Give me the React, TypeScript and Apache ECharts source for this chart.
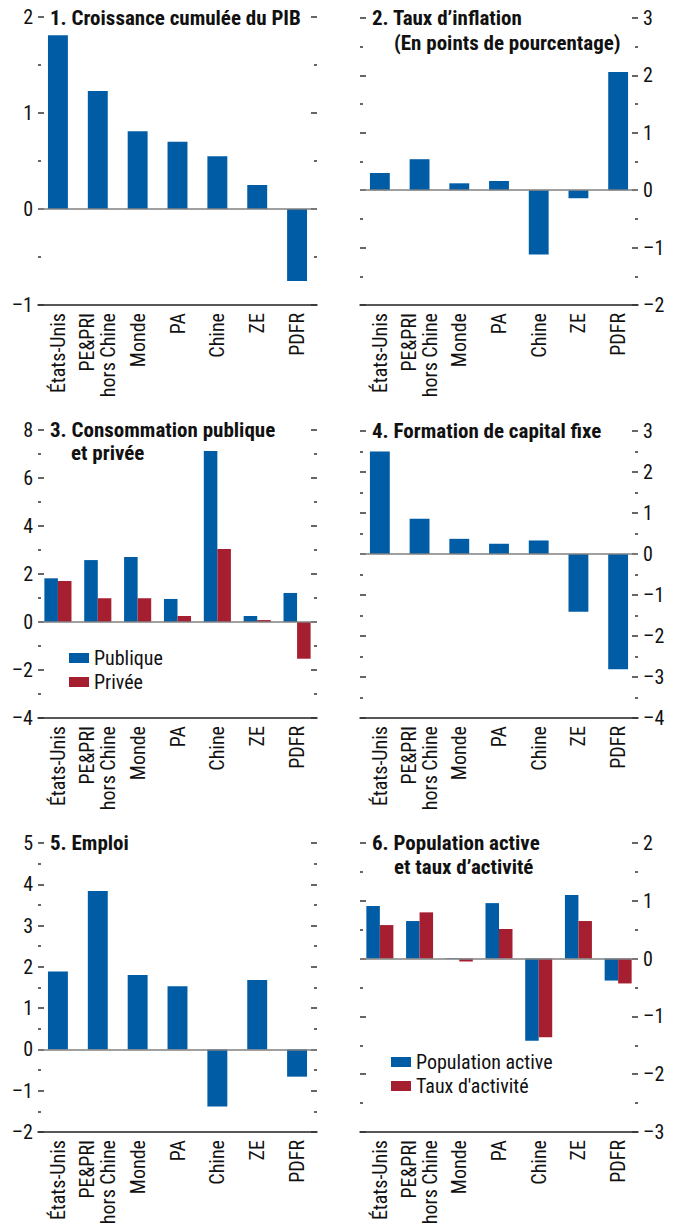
import React, { useEffect, useRef } from "react";
import * as echarts from "echarts";

const categories = ["États-Unis", "PE&PRI\nhors Chine", "Monde", "PA", "Chine", "ZE", "PDFR"];

const pib = [1.81, 1.23, 0.81, 0.7, 0.55, 0.25, -0.75];
const inflation = [0.3, 0.54, 0.12, 0.16, -1.12, -0.14, 2.06];
const consoPublique = [1.82, 2.58, 2.71, 0.96, 7.12, 0.25, 1.21];
const consoPrivee = [1.71, 0.99, 0.99, 0.25, 3.04, 0.08, -1.53];
const capitalFixe = [2.5, 0.86, 0.37, 0.25, 0.33, -1.41, -2.81];
const emploi = [1.89, 3.84, 1.8, 1.53, -1.38, 1.68, -0.66];
const populationActive = [0.91, 0.65, 0.01, 0.96, -1.42, 1.1, -0.38];
const tauxActivite = [0.58, 0.8, -0.05, 0.51, -1.36, 0.65, -0.43];

const title1 = ["1. Croissance cumulée du PIB"];
const title2 = ["2. Taux d’inflation", "(En points de pourcentage)"];
const title3 = ["3. Consommation publique", "et privée"];
const title4 = ["4. Formation de capital fixe"];
const title5 = ["5. Emploi"];
const title6 = ["6. Population active", "et taux d’activité"];

const yMin = [-1, -2, -4, -4, -2, -3];
const yMax = [2, 3, 8, 3, 5, 2];
const yStep = [1, 1, 2, 1, 1, 1];

const legend3 = ["Publique", "Privée"];
const legend6 = ["Population active", "Taux d'activité"];

const FONT = "'Liberation Sans Narrow', 'Arial Narrow', 'Roboto Condensed', 'DejaVu Sans Condensed', sans-serif";
const BLUE = "#005DA5";
const RED = "#A51F30";
const TEXT = "#111";
const TICK = "#333";

type Panel = {
  left: number;
  top: number;
  width: number;
  height: number;
  side: "left" | "right";
  titles: string[];
  titleX: number[];
  titleY: number[];
};

const panels: Panel[] = [
  { left: 38, top: 17, width: 279, height: 288, side: "left", titles: title1, titleX: [50], titleY: [17.5] },
  { left: 360, top: 18, width: 278, height: 287, side: "right", titles: title2, titleX: [372, 394], titleY: [18, 43] },
  { left: 38, top: 430, width: 279, height: 288, side: "left", titles: title3, titleX: [50, 71], titleY: [430, 453] },
  { left: 360, top: 431, width: 278, height: 287, side: "right", titles: title4, titleX: [372], titleY: [431] },
  { left: 38, top: 843, width: 279, height: 289, side: "left", titles: title5, titleX: [50], titleY: [843] },
  { left: 360, top: 843, width: 278, height: 289, side: "right", titles: title6, titleX: [372, 394], titleY: [843, 867] },
];

const fmt = (v: number) => (v < 0 ? "–" + Math.abs(v) : String(v));

function buildOption() {
  const grid: any[] = [];
  const xAxis: any[] = [];
  const yAxis: any[] = [];
  const graphic: any[] = [];

  panels.forEach((p, i) => {
    grid.push({
      left: p.left,
      top: p.top,
      width: p.width,
      height: p.height,
      containLabel: false,
      outerBoundsMode: "none",
    });
    xAxis.push({
      type: "category",
      gridIndex: i,
      data: categories,
      axisLine: { show: true, onZero: false, lineStyle: { color: "#222", width: 1.5 } },
      axisTick: { show: false },
      axisLabel: { rotate: 90, margin: 8, fontSize: 20, color: TEXT, fontFamily: FONT, interval: 0, lineHeight: 21 },
      splitLine: { show: false },
    });
    const common = {
      type: "value",
      gridIndex: i,
      min: yMin[i],
      max: yMax[i],
      interval: yStep[i],
      axisLine: { show: false },
      axisTick: { show: true, inside: true, length: 6, lineStyle: { color: TICK, width: 1.5 } },
      minorTick: { show: true, splitNumber: 2, length: 3, lineStyle: { color: TICK, width: 1.5 } },
      splitLine: { show: false },
      minorSplitLine: { show: false },
    };
    yAxis.push({
      ...common,
      position: p.side,
      axisLabel: { show: true, margin: 5, fontSize: 20, color: TEXT, fontFamily: FONT, formatter: fmt },
    });
    yAxis.push({
      ...common,
      position: p.side === "left" ? "right" : "left",
      axisLabel: { show: false },
    });
    p.titles.forEach((t, k) => {
      graphic.push({
        type: "text",
        x: p.titleX[k],
        y: p.titleY[k],
        z: 10,
        style: {
          text: t,
          fontSize: 21,
          fontWeight: "bold",
          fontFamily: FONT,
          fill: TEXT,
          verticalAlign: "middle",
          align: "left",
        },
      });
    });
  });

  const zeroLine = {
    silent: true,
    symbol: "none",
    label: { show: false },
    lineStyle: { color: "#808080", width: 1.5, type: "solid" },
    data: [{ yAxis: 0 }],
  };

  const single = (name: string, data: number[], i: number) => ({
    type: "bar",
    name,
    xAxisIndex: i,
    yAxisIndex: 2 * i,
    data,
    barWidth: "50%",
    itemStyle: { color: BLUE },
    markLine: zeroLine,
  });

  const pair = (names: string[], a: number[], b: number[], i: number) => [
    {
      type: "bar",
      name: names[0],
      xAxisIndex: i,
      yAxisIndex: 2 * i,
      data: a,
      barCategoryGap: "32%",
      barGap: "0%",
      itemStyle: { color: BLUE },
    },
    {
      type: "bar",
      name: names[1],
      xAxisIndex: i,
      yAxisIndex: 2 * i,
      data: b,
      barCategoryGap: "32%",
      barGap: "0%",
      itemStyle: { color: RED },
      markLine: zeroLine,
    },
  ];

  const series: any[] = [
    single("PIB", pib, 0),
    single("Inflation", inflation, 1),
    ...pair(legend3, consoPublique, consoPrivee, 2),
    single("Capital fixe", capitalFixe, 3),
    single("Emploi", emploi, 4),
    ...pair(legend6, populationActive, tauxActivite, 5),
  ];

  const legendCommon = {
    orient: "vertical",
    icon: "rect",
    itemWidth: 20,
    itemHeight: 10,
    itemGap: 4,
    padding: 0,
    selectedMode: false,
    textStyle: { fontSize: 20, fontFamily: FONT, color: TEXT },
  };

  return {
    animation: false,
    backgroundColor: "#fff",
    grid,
    xAxis,
    yAxis,
    series,
    graphic,
    legend: [
      { ...legendCommon, data: legend3, left: 69, top: 648 },
      { ...legendCommon, data: legend6, left: 391, top: 1052 },
    ],
  };
}

export default function App() {
  const ref = useRef<HTMLDivElement>(null);
  useEffect(() => {
    if (!ref.current) return;
    const chart = echarts.init(ref.current, undefined, { renderer: "svg" });
    chart.setOption(buildOption() as any);
    return () => chart.dispose();
  }, []);
  return (
    <div
      ref={ref}
      style={{ position: "fixed", left: 0, top: 0, width: 675, height: 1226, background: "#fff" }}
    />
  );
}
